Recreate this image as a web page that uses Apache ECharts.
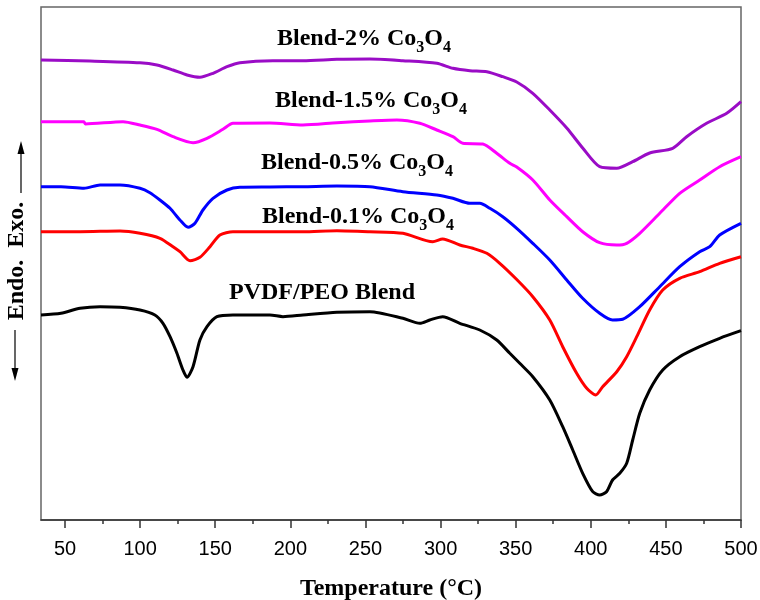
<!DOCTYPE html>
<html>
<head>
<meta charset="utf-8">
<script src="https://cdn.jsdelivr.net/npm/echarts@6/dist/echarts.min.js"></script>
<style>
  html, body { margin: 0; padding: 0; background: #fff; }
  #chart { width: 760px; height: 600px; }
</style>
</head>
<body>
<div id="chart"></div>
<script>
// DSC heat-flow traces (arbitrary units, stacked offsets) vs temperature (°C)
const majorTicks = [50, 100, 150, 200, 250, 300, 350, 400, 450, 500];
const minorTicks = [75, 125, 175, 225, 275, 325, 375, 425, 475];

const tempBlend2 = [34, 66.6, 99.9, 111.2, 121.9, 131.2, 139.8, 148.5, 157.8, 166.4, 188.4, 208.4, 231, 252.9, 274.9, 297.5, 308.2, 319.5, 330.8, 341.4, 350.7, 361.4, 372.7, 384, 394.6, 405.9, 417.3, 427.9, 439.2, 454.5, 463.8, 477.1, 490.5, 500];
const heatBlend2 = [460, 459, 457.3, 455, 450, 445, 442.7, 446.7, 453.3, 457.3, 459.3, 459.3, 460.7, 461, 459.3, 456.7, 451.7, 449.3, 448.3, 443.3, 438, 426.7, 410, 392, 372, 353.3, 351.7, 358.3, 367, 371.7, 383.3, 396.7, 406.7, 418.3];

const tempBlend15 = [34, 62.5, 63.5, 88.6, 99.9, 111.2, 121.9, 135.2, 144.5, 155.1, 161.8, 186.4, 208.4, 231, 252.9, 270.9, 286.2, 297.5, 308.2, 314.8, 328.1, 337.4, 346.1, 350.7, 361.4, 372.7, 384, 394.6, 405.9, 417.3, 423.9, 432.6, 445.9, 459.2, 472.5, 485.8, 500];
const heatBlend15 = [398.3, 398.3, 396, 398.3, 395, 390.7, 383.3, 377.3, 381.7, 390.7, 396.7, 397, 395, 397.3, 399, 400, 396.7, 390, 383.3, 376.7, 376, 366.7, 356.7, 353, 340, 320, 303.3, 288.3, 277.3, 275, 276.7, 286.7, 306.7, 326.7, 340, 353.3, 363.3];

const tempBlend05 = [34, 47.3, 62.6, 73.3, 86.6, 99.9, 106.5, 113.2, 119.9, 126.5, 131.9, 136.5, 141.8, 148.5, 157.8, 166.4, 186.4, 208.4, 231, 252.9, 274.9, 297.5, 308.2, 319.5, 326.1, 332.8, 341.4, 350.7, 361.4, 372.7, 384, 394.6, 405.9, 414.5, 421.2, 432.6, 445.9, 459.2, 472.5, 479.2, 485.8, 500];
const heatBlend05 = [333.3, 333.3, 331.7, 335, 335, 331.7, 327.3, 320, 311.7, 300, 292.7, 296.7, 310, 321.7, 330, 332.7, 333, 333.3, 334, 333.3, 328.3, 325, 321.7, 316.7, 316.7, 311.7, 303.3, 291.7, 276.7, 260, 240, 221.7, 206.7, 200, 200.7, 213.3, 233.3, 253.3, 268.3, 273.3, 285, 296.7];

const tempBlend01 = [34, 60, 86.6, 99.9, 113.2, 121.9, 126.5, 133.2, 139.8, 146.5, 153.1, 161.8, 186.4, 208.4, 231, 252.9, 274.9, 294.8, 301.4, 312.8, 321.5, 330.8, 339.4, 350.7, 361.4, 372.7, 381.3, 390.6, 397.3, 403.3, 407.9, 417.3, 423.9, 430.6, 439.2, 447.9, 459.2, 472.5, 485.8, 500];
const heatBlend01 = [288.3, 288.3, 289, 286.7, 281.7, 273.3, 268.3, 259.3, 262.7, 273.3, 285, 288.3, 288.3, 288.3, 289.3, 288.3, 286.7, 278.3, 281, 275, 271.7, 266.7, 256.7, 240.5, 223.3, 200, 173.3, 146.7, 131.7, 125, 133.3, 148.3, 163.3, 183.3, 210, 230, 241.7, 248.3, 256.7, 263.3];

const tempPure = [34, 47.3, 60, 73.3, 86.6, 99.9, 109.8, 115.2, 119.9, 124.5, 128.5, 131.2, 135.2, 139.8, 144.5, 151.1, 161.8, 186.4, 195.1, 208.4, 231, 252.9, 274.9, 286.2, 292.8, 301.4, 312.8, 326.1, 337.4, 346.1, 352.7, 361.4, 372.7, 381.3, 388, 394.6, 401.3, 405.9, 410.5, 414.5, 419.3, 423.9, 427.9, 432.6, 439.2, 447.9, 459.2, 472.5, 485.8, 500];
const heatPure = [205, 206.7, 211.7, 213.3, 212.7, 210, 205, 196.7, 183.3, 166.7, 150, 142.7, 153.3, 180, 193.3, 203.3, 205, 205, 203.3, 205, 207.7, 208.3, 201.7, 196.7, 200, 203.3, 196.7, 190, 180, 166.7, 156.7, 143.3, 120, 93.3, 70, 46.7, 28.3, 25, 28.3, 40, 46.7, 56.7, 80, 106.7, 130, 150, 163.3, 173.3, 181.7, 189.3];

function pairs(xs, ys) { return xs.map((x, i) => [x, ys[i]]); }

const serifBold = { fontFamily: '"Liberation Serif", "Times New Roman", serif', fontWeight: 'bold' };

// Trace caption with subscripted formula digits
function traceLabel(main, x, y) {
  return {
    type: 'text', x, y,
    style: {
      text: '{m|' + main + ' Co}{s|3}{m|O}{s|4}',
      rich: {
        m: Object.assign({ fontSize: 24, fill: '#000', lineHeight: 30, verticalAlign: 'top', padding: [0, 0, 0, 0] }, serifBold),
        s: Object.assign({ fontSize: 16, fill: '#000', lineHeight: 16, verticalAlign: 'top', padding: [13, 0, 0, 0] }, serifBold)
      },
      textAlign: 'center', textVerticalAlign: 'middle'
    }
  };
}

const chart = echarts.init(document.getElementById('chart'), null, { renderer: 'canvas' });

function mkSeries(name, color, xs, ys) {
  return {
    name, type: 'line', data: pairs(xs, ys), showSymbol: false, symbol: 'none',
    smooth: 0.25, lineStyle: { color, width: 3 }, silent: true, animation: false
  };
}

chart.setOption({
  animation: false,
  backgroundColor: '#fff',
  grid: { left: 41, right: 19, top: 7, bottom: 80, show: true, borderColor: '#666', borderWidth: 1.5,
          outerBoundsMode: 'none', containLabel: false },
  xAxis: [{
    type: 'value', min: 34, max: 500, position: 'bottom',
    name: 'Temperature (°C)', nameLocation: 'middle', nameGap: 57,
    nameTextStyle: Object.assign({ fontSize: 24, color: '#000' }, serifBold),
    axisLine: { show: true, lineStyle: { color: '#333', width: 1.5 } },
    axisTick: { show: true, customValues: majorTicks, length: 8, lineStyle: { color: '#333', width: 1.5 } },
    axisLabel: { show: true, customValues: majorTicks, fontSize: 20, color: '#000', margin: 19,
                 fontFamily: '"Liberation Sans", Arial, sans-serif' },
    splitLine: { show: false }
  }, {
    type: 'value', min: 34, max: 500, position: 'bottom', gridIndex: 0,
    axisLine: { show: false },
    axisTick: { show: true, customValues: minorTicks, length: 4, lineStyle: { color: '#333', width: 1.5 } },
    axisLabel: { show: false },
    splitLine: { show: false }
  }],
  yAxis: {
    type: 'value', min: 0, max: 513,
    axisLine: { show: false }, axisTick: { show: false }, axisLabel: { show: false }, splitLine: { show: false }
  },
  series: [
    mkSeries('Blend-2% Co3O4', '#9a0cc6', tempBlend2, heatBlend2),
    mkSeries('Blend-1.5% Co3O4', '#ff00ff', tempBlend15, heatBlend15),
    mkSeries('Blend-0.5% Co3O4', '#0000ff', tempBlend05, heatBlend05),
    mkSeries('Blend-0.1% Co3O4', '#ff0000', tempBlend01, heatBlend01),
    mkSeries('PVDF/PEO Blend', '#000000', tempPure, heatPure)
  ],
  graphic: [
    traceLabel('Blend-2%', 364, 42),
    traceLabel('Blend-1.5%', 371, 104),
    traceLabel('Blend-0.5%', 357, 166),
    traceLabel('Blend-0.1%', 358, 220),
    { type: 'text', x: 322, y: 293,
      style: Object.assign({ text: 'PVDF/PEO Blend', fontSize: 24, fill: '#000', textAlign: 'center', textVerticalAlign: 'middle' }, serifBold) },
    // Endo / Exo direction marker
    { type: 'text', x: 17, y: 261, rotation: Math.PI / 2,
      style: Object.assign({ text: 'Endo.  Exo.', fontSize: 24, fill: '#000', textAlign: 'center', textVerticalAlign: 'middle' }, serifBold) },
    { type: 'line', shape: { x1: 21, y1: 193, x2: 21, y2: 150 }, style: { stroke: '#000', lineWidth: 1.2 } },
    { type: 'polygon', shape: { points: [[21, 141], [17.5, 154], [24.5, 154]] }, style: { fill: '#000' } },
    { type: 'line', shape: { x1: 15, y1: 330, x2: 15, y2: 372 }, style: { stroke: '#000', lineWidth: 1.2 } },
    { type: 'polygon', shape: { points: [[15, 381], [11.5, 368], [18.5, 368]] }, style: { fill: '#000' } }
  ]
});
</script>
</body>
</html>
